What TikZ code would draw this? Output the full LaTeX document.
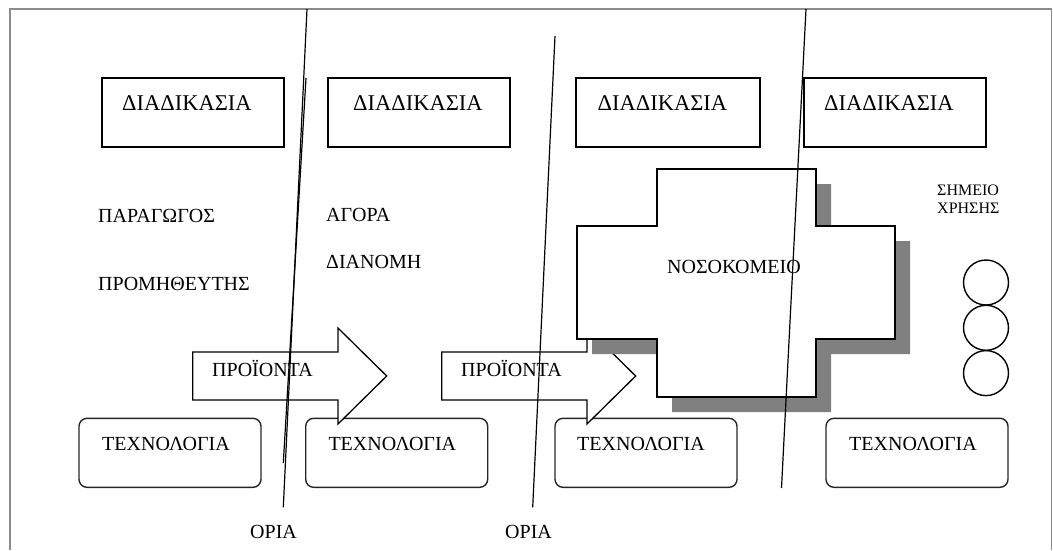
\documentclass[tikz,border=0pt]{standalone}
\usepackage{fontspec}
\setmainfont{Liberation Serif}
\usetikzlibrary{calc}
\definecolor{framegray}{HTML}{8C8C8C}
\definecolor{shadowgray}{HTML}{808080}
\tikzset{
  procbox/.style={draw=black, line width=2pt, minimum width=182pt, minimum height=69pt, inner sep=0pt},
  techbox/.style={draw=black!85, line width=1.4pt, rounded corners=8pt, minimum width=182pt, minimum height=69pt, inner sep=0pt},
  word/.style={inner sep=0pt, anchor=base west, font=\fontsize{20}{22}\selectfont},
  bigword/.style={word, font=\fontsize{22.5}{24}\selectfont},
  smallword/.style={word, font=\fontsize{16}{18}\selectfont},
  flowarrow/.style={draw=black, fill=white, line width=1.3pt, line join=miter},
  border/.style={draw=black, line width=1.2pt},
  usepoint/.style={circle, draw=black, line width=1.4pt, minimum size=45pt, inner sep=0pt},
}
\begin{document}
\begin{tikzpicture}[x=1pt, y=-1pt]
\useasboundingbox (0,0) rectangle (1053,550);
% page frame
\draw[framegray, line width=1.7pt] (10,550) -- (10,9) -- (1051.5,9) -- (1051.5,550);

% process boxes along the top
\node[procbox] (d1) at (193,112.5) {};
\node[procbox] (d2) at (419.4,112.5) {};
\node[procbox, minimum width=183.5pt] (d3) at (668.2,112.5) {};
\node[procbox] (d4) at (895,112.5) {};
\node[bigword] (d1t) at (122,110) {ΔΙΑΔΙΚΑΣΙΑ};
\node[bigword] (d2t) at (353,110) {ΔΙΑΔΙΚΑΣΙΑ};
\node[bigword] (d3t) at (597.5,110) {ΔΙΑΔΙΚΑΣΙΑ};
\node[bigword] (d4t) at (824,110) {ΔΙΑΔΙΚΑΣΙΑ};

% technology boxes along the bottom
\node[techbox] (t1) at (170,452.8) {};
\node[techbox] (t2) at (396.7,452.8) {};
\node[techbox] (t3) at (646,452.8) {};
\node[techbox] (t4) at (917,452.8) {};
\node[word] (t1t) at (102,450) {ΤΕΧΝΟΛΟΓΙΑ};
\node[word] (t2t) at (328.3,450) {ΤΕΧΝΟΛΟΓΙΑ};
\node[word] (t3t) at (577,450) {ΤΕΧΝΟΛΟΓΙΑ};
\node[word] (t4t) at (849,450) {ΤΕΧΝΟΛΟΓΙΑ};

% actors
\node[word] (prod) at (98,222) {ΠΑΡΑΓΩΓΟΣ};
\node[word] (supp) at (98,290) {ΠΡΟΜΗΘΕΥΤΗΣ};
\node[word] (mark) at (326,221) {ΑΓΟΡΑ};
\node[word] (dist) at (326,268) {ΔΙΑΝΟΜΗ};
\node[smallword] (use1) at (937,195) {ΣΗΜΕΙΟ};
\node[smallword] (use2) at (937,213) {ΧΡΗΣΗΣ};

% product flow arrows
\draw[flowarrow] (192.7,352) -- (338,352) -- (338,328) -- (386.7,376) -- (338,424) -- (338,400) -- (192.7,400) -- cycle;
\draw[flowarrow] (441.7,352) -- (587,352) -- (587,328) -- (635.7,376) -- (587,424) -- (587,400) -- (441.7,400) -- cycle;
\node[word] (p1) at (212,376.5) {ΠΡΟΪΟΝΤΑ};
\node[word] (p2) at (461,376.5) {ΠΡΟΪΟΝΤΑ};

% hospital cross with its drop shadow
\begin{scope}[shift={(15,15)}]
\fill[shadowgray] (657,169) -- (816,169) -- (816,226) -- (895,226) -- (895,339) -- (816,339) -- (816,397) -- (657,397) -- (657,339) -- (577,339) -- (577,226) -- (657,226) -- cycle;
\end{scope}
\draw[black, fill=white, line width=2pt] (657,169) -- (816,169) -- (816,226) -- (895,226) -- (895,339) -- (816,339) -- (816,397) -- (657,397) -- (657,339) -- (577,339) -- (577,226) -- (657,226) -- cycle;
\node[word] (hosp) at (667,273) {ΝΟΣΟΚΟΜΕΙΟ};

% points of use
\node[usepoint] (c1) at (986,282.5) {};
\node[usepoint] (c2) at (986,327.8) {};
\node[usepoint] (c3) at (986,373.1) {};

% boundaries
\coordinate (b1top) at (307,9);
\coordinate (b1bot) at (283.3,507.3);
\coordinate (b1atop) at (306,78);
\coordinate (b1abot) at (283.3,463);
\coordinate (b2top) at (555,36);
\coordinate (b2bot) at (532.7,507.3);
\coordinate (b3top) at (806,9);
\coordinate (b3bot) at (781.5,488);
\draw[border] (b1top) -- (b1bot);
\draw[border] (b1atop) -- (b1abot);
\draw[border] (b2top) -- (b2bot);
\draw[border] (b3top) -- (b3bot);
\node[word] (o1) at (250,538) {ΟΡΙΑ};
\node[word] (o2) at (505,538) {ΟΡΙΑ};
\end{tikzpicture}
\end{document}
